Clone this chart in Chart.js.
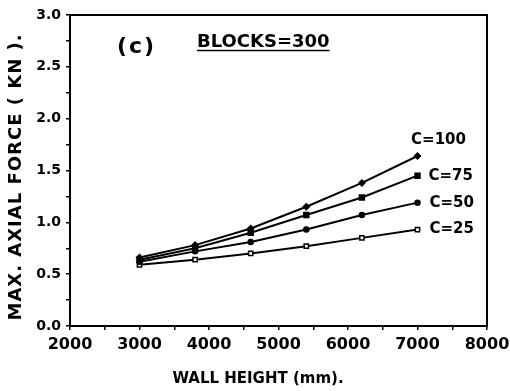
<!DOCTYPE html>
<html>
<head>
<meta charset="utf-8">
<script src="https://cdn.jsdelivr.net/npm/chart.js@4"></script>
<style>
  html, body { margin: 0; padding: 0; background: #fff; }
  #wrap { width: 510px; height: 391px; }
</style>
</head>
<body>
<div id="wrap"><canvas id="myChart"></canvas></div>
<script>
const heights = [3000, 3800, 4600, 5400, 6200, 7000];
const c100 = [0.66, 0.78, 0.94, 1.15, 1.38, 1.64];
const c75 = [0.64, 0.75, 0.90, 1.07, 1.24, 1.45];
const c50 = [0.62, 0.72, 0.81, 0.93, 1.07, 1.19];
const c25 = [0.59, 0.64, 0.70, 0.77, 0.85, 0.93];
const seriesNames = ['C=100', 'C=75', 'C=50', 'C=25'];

const FONT = "'DejaVu Sans', sans-serif";

function pts(ys) {
    return heights.map((h, i) => ({x: h, y: ys[i]}));
}

// where each end label goes relative to the last point
const labelPos = {
    'C=100': {dx: 21, dy: -16, align: 'center'},
    'C=75': {dx: 11, dy: 0, align: 'left'},
    'C=50': {dx: 12, dy: 0, align: 'left'},
    'C=25': {dx: 12, dy: 0, align: 'left'}
};

const extras = {
    id: 'extras',
    afterDraw(chart) {
        const ctx = chart.ctx;
        const a = chart.chartArea;
        ctx.save();
        // frame
        ctx.strokeStyle = '#000';
        ctx.lineWidth = 2;
        ctx.strokeRect(a.left, a.top, a.right - a.left, a.bottom - a.top);

        ctx.fillStyle = '#000';
        // end labels
        ctx.font = 'bold 15px ' + FONT;
        ctx.textBaseline = 'middle';
        chart.data.datasets.forEach((ds, i) => {
            const meta = chart.getDatasetMeta(i);
            const p = meta.data[meta.data.length - 1];
            const lp = labelPos[ds.label];
            ctx.textAlign = lp.align;
            ctx.fillText(ds.label, p.x + lp.dx, p.y + lp.dy);
        });

        // panel text
        ctx.textAlign = 'left';
        ctx.textBaseline = 'alphabetic';
        ctx.font = 'bold 22px ' + FONT;
        ctx.letterSpacing = '2px';
        ctx.fillText('(c)', 117, 53);
        ctx.letterSpacing = '0px';
        ctx.font = 'bold 18px ' + FONT;
        ctx.fillText('BLOCKS=300', 197, 47);
        const w = ctx.measureText('BLOCKS=300').width;
        ctx.lineWidth = 1.5;
        ctx.beginPath();
        ctx.moveTo(197, 50.5);
        ctx.lineTo(197 + w, 50.5);
        ctx.stroke();

        // axis titles
        ctx.textAlign = 'center';
        ctx.textBaseline = 'middle';
        ctx.font = 'bold 15px ' + FONT;
        ctx.fillText('WALL HEIGHT (mm).', 258, 379);
        ctx.translate(16, 177);
        ctx.rotate(-Math.PI / 2);
        ctx.letterSpacing = '1px';
        ctx.font = 'bold 18px ' + FONT;
        ctx.fillText('MAX. AXIAL FORCE ( KN ).', 0, 0);
        ctx.restore();
    }
};

new Chart(document.getElementById('myChart'), {
    type: 'line',
    data: {
        datasets: [
            {
                label: seriesNames[0],
                data: pts(c100),
                pointStyle: 'rectRot',
                pointRadius: 3,
                backgroundColor: '#000'
            },
            {
                label: seriesNames[1],
                data: pts(c75),
                pointStyle: 'rect',
                pointRadius: 3.5,
                backgroundColor: '#000'
            },
            {
                label: seriesNames[2],
                data: pts(c50),
                pointStyle: 'circle',
                pointRadius: 2.5,
                backgroundColor: '#000'
            },
            {
                label: seriesNames[3],
                data: pts(c25),
                pointStyle: 'rect',
                pointRadius: 3,
                backgroundColor: '#fff'
            }
        ]
    },
    options: {
        responsive: true,
        maintainAspectRatio: false,
        animation: false,
        devicePixelRatio: 1,
        layout: {
            padding: {top: 15, right: 23, left: 0, bottom: 0}
        },
        elements: {
            line: {borderColor: '#000', borderWidth: 2, tension: 0, fill: false},
            point: {borderColor: '#000', borderWidth: 1.5}
        },
        scales: {
            x: {
                type: 'linear',
                min: 2000,
                max: 8000,
                afterFit: (s) => {
                    s.height = 65;
                    s.paddingRight = 0;
                    s.paddingLeft = 0;
                },
                border: {display: true, color: '#000', width: 2},
                grid: {drawOnChartArea: false, color: '#000', tickLength: 4, lineWidth: 1.5},
                ticks: {
                    stepSize: 500,
                    autoSkip: false,
                    maxRotation: 0,
                    padding: 5,
                    color: '#000',
                    font: {family: FONT, size: 16, weight: 'bold'},
                    callback: (v) => v % 1000 === 0 ? String(v) : ''
                }
            },
            y: {
                min: 0,
                max: 3,
                afterFit: (s) => { s.width = 70; },
                border: {display: true, color: '#000', width: 2},
                grid: {drawOnChartArea: false, color: '#000', tickLength: 4, lineWidth: 1.5},
                ticks: {
                    stepSize: 0.25,
                    autoSkip: false,
                    padding: 5,
                    color: '#000',
                    font: {family: FONT, size: 14, weight: 'bold'},
                    callback: (v) => Math.abs(v * 2 - Math.round(v * 2)) < 1e-6 ? v.toFixed(1) : ''
                }
            }
        },
        plugins: {
            legend: {display: false},
            tooltip: {enabled: false}
        }
    },
    plugins: [extras]
});
</script>
</body>
</html>
